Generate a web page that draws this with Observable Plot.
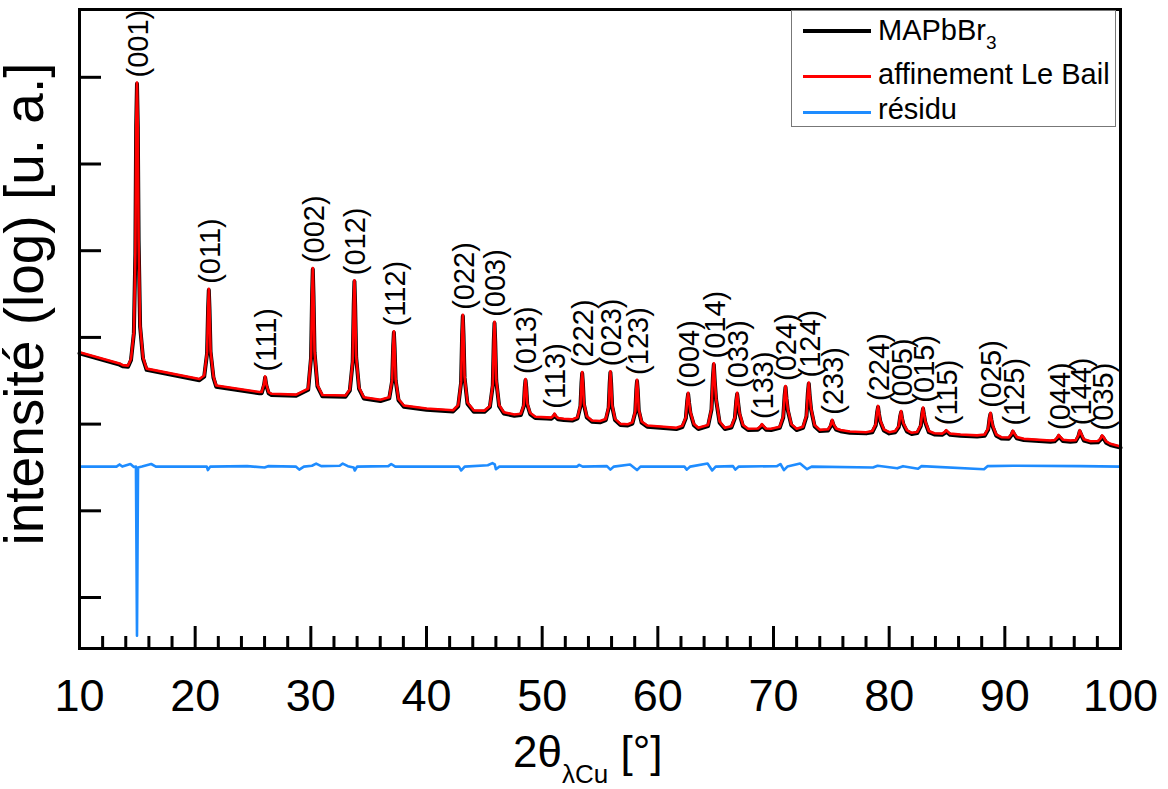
<!DOCTYPE html>
<html><head><meta charset="utf-8">
<script src="https://cdn.jsdelivr.net/npm/d3@7"></script>
<script src="https://cdn.jsdelivr.net/npm/@observablehq/plot@0.6"></script>
<style>
body{margin:0;background:#fff;font-family:"Liberation Sans",Arial,sans-serif;}
#wrap{position:relative;width:1168px;height:789px;overflow:hidden;}
#chart svg{display:block;}
.abs{position:absolute;white-space:nowrap;line-height:1;}
</style></head><body>
<div id="wrap">
  <div id="chart"></div>
  <div class="abs" id="xtitle" style="left:513px;top:730px;font-size:44px;">2θ<span style="font-size:26px;position:relative;top:16px;">λCu</span> [°]</div>
  <div class="abs" style="left:791px;top:10px;width:323px;height:115px;border:1px solid #777;background:#fff;"></div>
  <div class="abs" style="left:803px;top:29px;width:68px;height:4px;background:#000;"></div>
  <div class="abs" style="left:878px;top:16px;font-size:29px;">MAPbBr<span style="font-size:19px;position:relative;top:9px;">3</span></div>
  <div class="abs" style="left:803px;top:75px;width:68px;height:3px;background:#ff0000;"></div>
  <div class="abs" style="left:878px;top:60px;font-size:29px;">affinement Le Bail</div>
  <div class="abs" style="left:803px;top:111px;width:68px;height:3px;background:#1e8cff;"></div>
  <div class="abs" style="left:878px;top:95px;font-size:29px;">résidu</div>
</div>
<script>
// 2θ (deg) and log10 intensity (arb. units)
const profile = [
[10.00,2.83],[13.46,2.70],[13.74,2.68],[14.20,2.675],
[14.45,2.75],[14.70,3.06],[14.83,3.98],[14.90,5.45],[14.97,5.94],[15.04,5.45],[15.11,4.13],[15.24,3.14],[15.49,2.77],
[15.80,2.64],[20.37,2.52],
[20.78,2.56],[21.03,2.83],[21.12,3.35],[21.18,3.56],[21.24,3.34],[21.33,2.85],[21.58,2.55],
[21.82,2.445],[25.56,2.37],
[25.75,2.37],[25.95,2.46],[26.05,2.55],[26.15,2.46],[26.35,2.37],
[26.60,2.35],[28.73,2.34],
[29.77,2.41],[30.02,2.78],[30.11,3.50],[30.17,3.80],[30.23,3.50],[30.32,2.84],[30.57,2.45],
[31.00,2.335],[33.00,2.33],
[33.37,2.40],[33.62,2.73],[33.71,3.39],[33.77,3.66],[33.83,3.39],[33.92,2.78],[34.17,2.42],
[34.58,2.31],[36.02,2.28],
[36.78,2.31],[37.03,2.51],[37.12,2.91],[37.18,3.07],[37.24,2.90],[37.33,2.52],[37.58,2.29],
[38.04,2.215],[40.00,2.18],[42.30,2.16],
[42.74,2.22],[42.99,2.49],[43.08,3.04],[43.14,3.26],[43.20,3.04],[43.29,2.55],[43.54,2.25],
[44.09,2.157],[45.00,2.155],
[45.48,2.21],[45.73,2.46],[45.82,2.98],[45.88,3.18],[45.94,2.97],[46.03,2.51],[46.28,2.22],
[46.68,2.137],[47.60,2.11],
[48.16,2.12],[48.41,2.22],[48.50,2.44],[48.56,2.52],[48.62,2.44],[48.71,2.24],[48.96,2.13],
[49.40,2.085],[50.40,2.078],
[50.77,2.075],[50.97,2.095],[51.07,2.12],[51.17,2.095],[51.37,2.07],
[51.87,2.061],[52.60,2.055],
[53.06,2.08],[53.31,2.22],[53.40,2.49],[53.46,2.60],[53.52,2.49],[53.61,2.24],[53.86,2.09],
[54.30,2.042],[55.00,2.035],
[55.50,2.06],[55.75,2.20],[55.84,2.49],[55.90,2.61],[55.96,2.49],[56.05,2.22],[56.30,2.06],
[56.77,2.003],[57.40,1.998],
[57.80,2.02],[58.05,2.15],[58.14,2.41],[58.20,2.51],[58.26,2.41],[58.35,2.17],[58.60,2.03],
[59.08,1.984],[60.50,1.97],[61.60,1.957],
[62.12,1.98],[62.42,2.08],[62.54,2.28],[62.62,2.36],[62.70,2.26],[62.82,2.14],[63.12,2.00],
[63.50,1.957],
[64.34,1.99],[64.64,2.18],[64.76,2.55],[64.84,2.70],[64.92,2.51],[65.04,2.29],[65.34,2.03],
[65.80,1.957],
[66.36,1.975],[66.66,2.08],[66.78,2.28],[66.86,2.36],[66.94,2.26],[67.06,2.13],[67.36,1.99],
[67.80,1.946],
[68.65,1.95],[68.88,1.975],[69.00,2.00],[69.12,1.98],[69.35,1.95],
[69.80,1.946],
[70.54,1.97],[70.84,2.09],[70.96,2.34],[71.04,2.44],[71.12,2.31],[71.24,2.17],[71.54,2.00],
[72.00,1.946],
[72.55,1.97],[72.85,2.10],[72.97,2.37],[73.05,2.48],[73.13,2.34],[73.25,2.18],[73.55,1.99],
[74.00,1.934],
[74.72,1.94],[74.95,1.99],[75.07,2.05],[75.19,2.00],[75.42,1.95],
[75.80,1.932],[76.60,1.915],[78.00,1.907],
[78.54,1.92],[78.84,2.00],[78.96,2.15],[79.04,2.21],[79.12,2.13],[79.24,2.04],[79.54,1.94],
[80.00,1.907],
[80.53,1.92],[80.83,1.98],[80.95,2.10],[81.03,2.15],[81.11,2.08],[81.23,2.01],[81.53,1.93],
[81.95,1.90],
[82.43,1.91],[82.73,1.99],[82.85,2.13],[82.93,2.19],[83.01,2.12],[83.13,2.03],[83.43,1.92],
[83.90,1.895],
[84.58,1.89],[84.81,1.91],[84.93,1.93],[85.05,1.915],[85.28,1.89],
[86.16,1.88],[87.60,1.87],
[88.26,1.88],[88.56,1.95],[88.68,2.08],[88.76,2.13],[88.84,2.06],[88.96,1.98],[89.26,1.88],
[89.70,1.849],
[90.34,1.845],[90.57,1.885],[90.69,1.925],[90.81,1.895],[91.04,1.85],
[91.64,1.83],[93.95,1.811],
[94.31,1.815],[94.54,1.845],[94.66,1.875],[94.78,1.855],[95.01,1.82],
[95.67,1.811],
[96.13,1.815],[96.36,1.87],[96.48,1.93],[96.60,1.89],[96.83,1.825],
[97.40,1.803],
[98.06,1.805],[98.29,1.835],[98.41,1.87],[98.53,1.85],[98.76,1.80],
[99.13,1.773],[100.00,1.742]
];

// residual curve (offset), same units
const residual = [
[10.0,1.51],[13.2,1.51],[13.46,1.535],[13.7,1.51],[14.4,1.54],[14.7,1.505],[14.88,1.51],[14.97,-0.44],[15.06,1.50],
[15.4,1.51],[16.2,1.54],[16.6,1.51],[21.0,1.51],[21.1,1.47],[21.3,1.51],[24.5,1.515],[26.0,1.50],[26.3,1.515],
[28.7,1.51],[29.0,1.475],[29.4,1.51],[30.1,1.52],[30.46,1.545],[30.9,1.515],[32.5,1.52],[32.76,1.545],[33.2,1.515],
[33.7,1.50],[33.8,1.465],[34.0,1.51],[36.7,1.515],[36.95,1.54],[37.3,1.51],[42.8,1.51],[43.0,1.465],[43.3,1.51],
[45.3,1.525],[45.7,1.55],[45.9,1.535],[46.0,1.48],[46.3,1.51],[53.0,1.51],[53.2,1.53],[53.5,1.51],[55.6,1.515],
[55.9,1.475],[56.2,1.51],[57.6,1.535],[58.2,1.47],[58.5,1.51],[62.3,1.51],[62.5,1.475],[62.8,1.51],[64.3,1.545],
[64.7,1.465],[65.0,1.51],[66.5,1.515],[66.7,1.475],[67.0,1.51],[70.3,1.515],[70.6,1.54],[70.9,1.47],[71.2,1.51],
[72.3,1.545],[72.9,1.48],[73.3,1.51],[78.6,1.50],[79.0,1.52],[80.7,1.49],[81.2,1.515],[82.5,1.485],[82.8,1.515],
[88.2,1.48],[88.5,1.515],[90.7,1.52],[96.5,1.515],[100.0,1.51]
];

const peakHKL = ["(001)","(011)","(111)","(002)","(012)","(112)","(022)","(003)","(013)","(113)","(222)","(023)","(123)","(004)","(014)","(033)","(133)","(024)","(124)","(233)","(224)","(005)","(015)","(115)","(025)","(125)","(044)","(144)","(035)"];
const peakPos = [14.97,21.18,26.05,30.17,33.77,37.18,43.14,45.88,48.56,51.07,53.46,55.90,58.20,62.62,64.84,66.86,69.00,71.04,73.05,75.07,79.04,81.03,82.93,84.93,88.76,90.69,94.66,96.48,98.41];
const peakTop = [5.94,3.56,2.55,3.80,3.66,3.07,3.26,3.18,2.52,2.12,2.60,2.61,2.51,2.36,2.70,2.36,2.00,2.44,2.48,2.05,2.21,2.15,2.19,1.93,2.13,1.925,1.875,1.93,1.87];

const xMajor = [10,20,30,40,50,60,70,80,90,100];
const xMinor = [12,14,16,18,22,24,26,28,32,34,36,38,42,44,46,48,52,54,56,58,62,64,66,68,72,74,76,78,82,84,86,88,92,94,96,98];
const yDecades = [0,1,2,3,4,5,6];
const yTitle = "intensité (log) [u. a.]";

const peaks = peakHKL.map((h, i) => ({hkl: h, t: peakPos[i], top: peakTop[i]}));

const W = 1168, H = 730, mL = 79, mR = 48, mT = 9, mB = 82;
const frameW = W - mL - mR, frameH = H - mT - mB;
const font = '"Liberation Sans", Arial, sans-serif';

const chart = Plot.plot({
  width: W, height: H,
  marginLeft: mL, marginRight: mR, marginTop: mT, marginBottom: mB,
  x: {domain: [10, 100], axis: null},
  y: {domain: [-0.588, 6.782], axis: null},
  style: {fontFamily: font, color: "black", background: "white", overflow: "visible"},
  marks: [
    Plot.line(profile, {x: d => d[0], y: d => d[1], stroke: "black", strokeWidth: 4, dy: 1.2}),
    Plot.line(profile, {x: d => d[0], y: d => d[1], stroke: "#ff0000", strokeWidth: 2.6}),
    Plot.line(residual, {x: d => d[0], y: d => d[1], stroke: "#1e8cff", strokeWidth: 2.6}),
    Plot.text(peaks, {x: "t", y: "top", text: "hkl", rotate: -90, textAnchor: "start", dy: -5, dx: 1.5, fontSize: 29, fill: "black"}),
    Plot.ruleX(xMajor, {x: d => d, insetTop: frameH - 22, stroke: "black", strokeWidth: 3}),
    Plot.ruleX(xMinor, {x: d => d, insetTop: frameH - 12, stroke: "black", strokeWidth: 3}),
    Plot.ruleY(yDecades, {y: d => d, insetRight: frameW - 22, stroke: "black", strokeWidth: 3}),
    Plot.frame({stroke: "black", strokeWidth: 3}),
    Plot.axisX({ticks: xMajor, tickSize: 0, tickPadding: 31, fontSize: 45, label: null, tickFormat: d => String(d)}),
    Plot.text([yTitle], {text: d => d, frameAnchor: "bottom-left", rotate: -90, textAnchor: "start", dx: -37, dy: -103, fontSize: 55, fill: "black"})
  ]
});
document.getElementById("chart").appendChild(chart);
</script>
</body></html>
